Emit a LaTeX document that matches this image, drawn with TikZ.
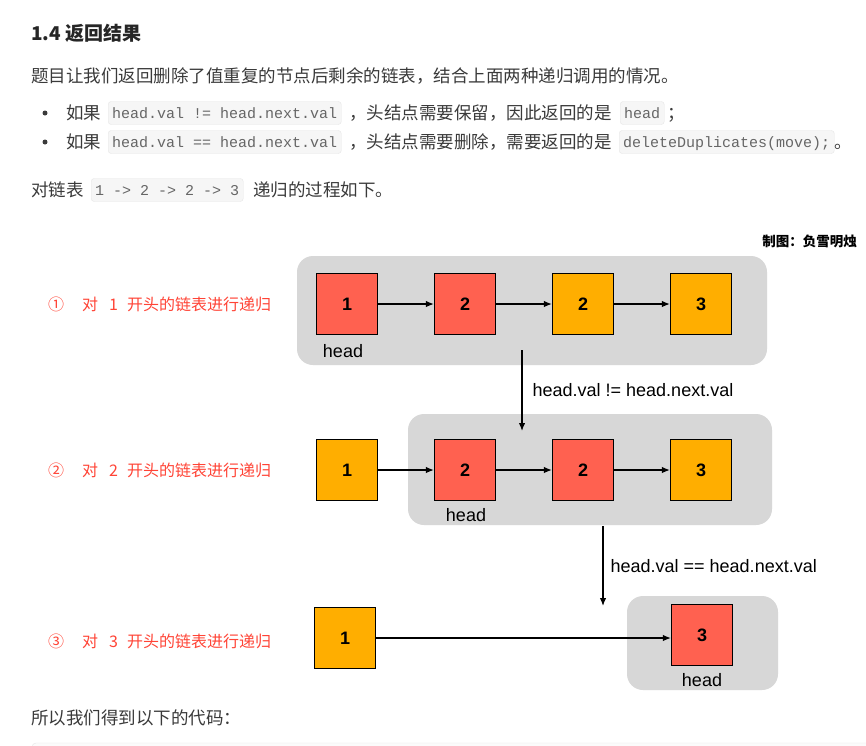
\documentclass[tikz,border=0pt]{standalone}
\usepackage{fontspec}
\setmainfont{Noto Sans CJK SC}
\setmonofont{Liberation Mono}
\newfontfamily\arial{Liberation Sans}
\usetikzlibrary{arrows.meta,positioning}

\definecolor{nodered}{HTML}{FF6150}
\definecolor{nodeorange}{HTML}{FFAE00}
\definecolor{panelgray}{HTML}{D7D7D7}
\definecolor{stepred}{HTML}{FF4436}
\definecolor{bodytext}{HTML}{3A3A3A}
\definecolor{codebg}{HTML}{F6F6F6}
\definecolor{codeline}{HTML}{E6E6E6}
\definecolor{codetext}{HTML}{666666}

\begin{document}
\begin{tikzpicture}[x=1pt,y=-1pt,
	txt/.style = {anchor=west, inner sep=0pt, text=bodytext, text height=15pt, text depth=2.4pt, font=\fontsize{17.5}{21}\selectfont},
	code/.style = {anchor=west, draw=codeline, fill=codebg, rounded corners=3pt, inner xsep=4pt, inner ysep=0pt, minimum height=23pt, text height=12pt, text depth=2pt, text=codetext, font=\ttfamily\fontsize{15}{18}\selectfont},
	dot/.style = {circle, fill=bodytext, inner sep=0pt, minimum size=5pt},
	steplabel/.style = {anchor=west, inner sep=0pt, text=stepred, font=\fontsize{16}{19}\selectfont},
	cell/.style = {draw=black, line width=1.2pt, minimum size=61pt, inner sep=0pt, font=\arial\bfseries\fontsize{18}{18}\selectfont},
	headtxt/.style = {inner sep=0pt, font=\arial\fontsize{18}{18}\selectfont},
	trans/.style = {anchor=west, inner sep=0pt, font=\arial\fontsize{18}{18}\selectfont},
	panel/.style = {fill=panelgray, rounded corners=16pt},
	link/.style = {-{Latex[length=8pt,width=6.5pt]}, line width=1.3pt}]

	\useasboundingbox[fill=white] (0,0) rectangle (866,745);

	% page text
	\node[txt, text=black!85, font=\bfseries\fontsize{19}{22}\selectfont] (title) at (31,34) {1.4 返回结果};
	\node[txt] (intro) at (31,76) {题目让我们返回删除了值重复的节点后剩余的链表，结合上面两种递归调用的情况。};

	\node[dot] (b1) at (45,113) {};
	\node[txt] (b1a) at (66,113) {如果};
	\node[code] (b1b) at (108,113) {head.val != head.next.val};
	\node[txt] (b1c) at (349,113) {，头结点需要保留，因此返回的是};
	\node[code] (b1d) at (620,113) {head};
	\node[txt] (b1e) at (667,113) {；};

	\node[dot] (b2) at (45,142) {};
	\node[txt] (b2a) at (66,142) {如果};
	\node[code] (b2b) at (108,142) {head.val == head.next.val};
	\node[txt] (b2c) at (349,142) {，头结点需要删除，需要返回的是};
	\node[code] (b2d) at (619,142) {deleteDuplicates(move);};
	\node[txt] (b2e) at (834,142) {。};

	\node[txt] (list1) at (31,190) {对链表};
	\node[code] (list2) at (91,190) {1 -> 2 -> 2 -> 3};
	\node[txt] (list3) at (253,190) {递归的过程如下。};

	\node[anchor=east, inner sep=0pt, font=\bfseries\fontsize{13.5}{16}\selectfont] (author) at (857,241) {制图：负雪明烛};

	% gray panels first
	\fill[panel] (297,256) rectangle (767,365);
	\fill[panel] (408,414) rectangle (772,525);
	\fill[panel] (627,596) rectangle (778,690);

	% step 1
	\node[steplabel] (s1) at (48,304) {①\hspace{18pt}对\hspace{11pt}1\hspace{9pt}开头的链表进行递归};
	\foreach \i/\x/\c/\v in {1/347/nodered/1, 2/465/nodered/2, 3/583/nodeorange/2, 4/701/nodeorange/3}
	{
		\node[cell, fill=\c] (ra\i) at (\x,304) {\v};
	}
	\draw[link] (ra1) -- (ra2);
	\draw[link] (ra2) -- (ra3);
	\draw[link] (ra3) -- (ra4);
	\node[headtxt] (ha) at (343,351) {head};

	\coordinate (ta1) at (522,350);
	\coordinate (ta2) at (522,431);
	\draw[link] (ta1) -- node[trans, xshift=10pt] (la) {head.val != head.next.val} (ta2);

	% step 2
	\node[steplabel] (s2) at (48,470) {②\hspace{18pt}对\hspace{11pt}2\hspace{9pt}开头的链表进行递归};
	\foreach \i/\x/\c/\v in {1/347/nodeorange/1, 2/465/nodered/2, 3/583/nodered/2, 4/701/nodeorange/3}
	{
		\node[cell, fill=\c] (rb\i) at (\x,470) {\v};
	}
	\draw[link] (rb1) -- (rb2);
	\draw[link] (rb2) -- (rb3);
	\draw[link] (rb3) -- (rb4);
	\node[headtxt] (hb) at (466,515) {head};

	\coordinate (tb1) at (603,526);
	\coordinate (tb2) at (603,606);
	\draw[link] (tb1) -- node[trans, xshift=7pt] (lb) {head.val == head.next.val} (tb2);

	% step 3
	\node[steplabel] (s3) at (48,641) {③\hspace{18pt}对\hspace{11pt}3\hspace{9pt}开头的链表进行递归};
	\node[cell, fill=nodeorange] (rc1) at (345,638) {1};
	\node[cell, fill=nodered] (rc3) at (702,635) {3};
	\draw[link] (rc1.east) -- (rc1.east -| rc3.west);
	\node[headtxt] (hc) at (702,680) {head};

	% page text below
	\node[txt] (outro) at (31,718) {所以我们得到以下的代码：};
	\draw[codeline, fill=codebg!40, rounded corners=4pt] (32,743) rectangle (900,800);
\end{tikzpicture}
\end{document}
